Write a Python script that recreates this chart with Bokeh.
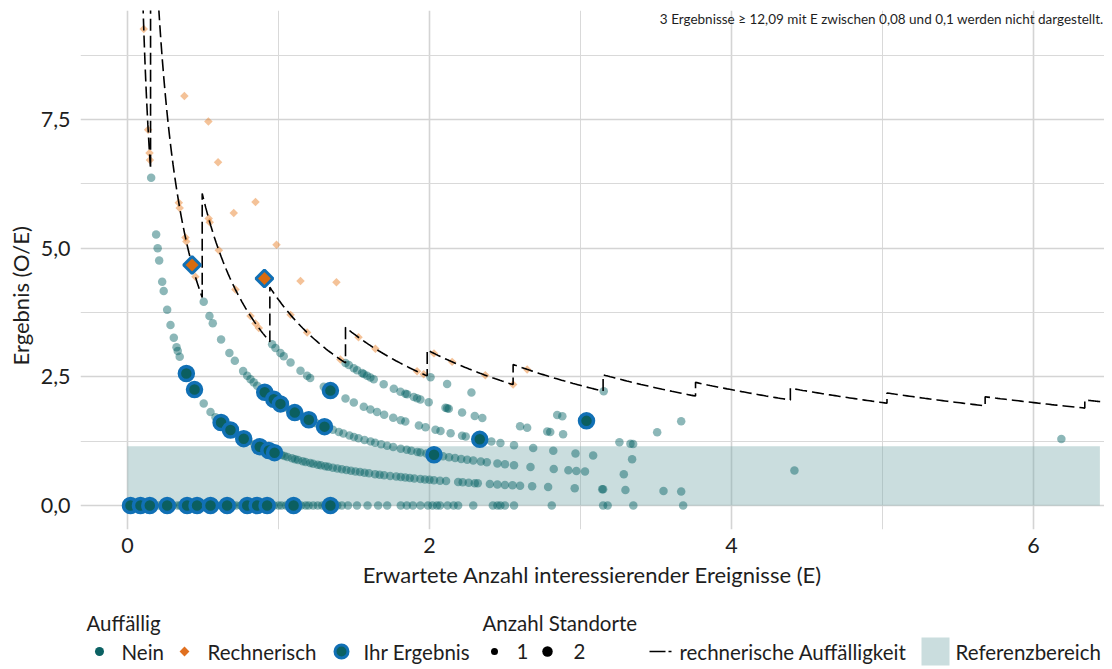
import numpy as np
from bokeh.plotting import figure
from bokeh.models import Range1d, FixedTicker, Label, Title
from bokeh.layouts import column
from bokeh.embed import file_html
from bokeh.resources import INLINE
from bokeh.core.properties import value

FONT = "Lato"
TXT = "#1e1e1e"

# ---------------- data (E = expected, O = observed count) ----------------
# "Nein" (not conspicuous) sites, grouped by observed count O
nein_E_O0 = [0.01, 0.03, 0.05, 0.07, 0.10, 0.12, 0.16, 0.18, 0.21, 0.23, 0.25, 0.28, 0.30, 0.33,
             0.35, 0.37, 0.41, 0.43, 0.48, 0.50, 0.52, 0.57, 0.59, 0.62, 0.64, 0.68, 0.70, 0.72,
             0.75, 0.77, 0.81, 0.83, 0.88, 0.90, 0.95, 0.97, 1.00, 1.02, 1.05, 1.07, 1.12, 1.15,
             1.18, 1.20, 1.23, 1.26, 1.29, 1.31, 1.36, 1.39, 1.42, 1.46, 1.52, 1.59, 1.66, 1.72,
             1.81, 1.85, 1.89, 1.94, 1.99, 2.02, 2.05, 2.07, 2.12, 2.16, 2.19, 2.29, 2.42, 2.45,
             2.47, 2.50, 2.56, 2.81, 3.15, 3.18, 3.35, 3.68]
nein_E_O1 = [0.157, 0.19, 0.20, 0.21, 0.23, 0.24, 0.263, 0.285, 0.307, 0.325, 0.333, 0.346,
             0.505, 0.55, 0.583, 0.60, 0.65, 0.70, 0.73, 0.80, 0.84, 0.90, 0.95, 0.99, 1.02,
             1.04, 1.06, 1.09, 1.11, 1.13, 1.16, 1.18, 1.21, 1.23, 1.26, 1.28, 1.31, 1.33, 1.36,
             1.39, 1.42, 1.45, 1.48, 1.51, 1.54, 1.57, 1.60, 1.64, 1.67, 1.70, 1.74, 1.78, 1.81,
             1.84, 1.87, 1.90, 1.94, 1.97, 2.00, 2.03, 2.07, 2.11, 2.19, 2.22, 2.26, 2.30, 2.32,
             2.40, 2.45, 2.50, 2.55, 2.60, 2.68, 2.786, 2.962, 3.144, 3.15, 3.298, 3.55, 3.667]
nein_E_O2 = [0.505, 0.543, 0.565, 0.62, 0.675, 0.711, 0.766, 0.793, 0.815, 0.836, 0.859, 0.94,
             0.99, 1.05, 1.08, 1.12, 1.15, 1.18, 1.22, 1.25, 1.28, 1.33, 1.36, 1.40, 1.43, 1.47,
             1.50, 1.53, 1.57, 1.61, 1.64, 1.68, 1.72, 1.76, 1.81, 1.85, 1.88, 1.92, 1.94, 1.98,
             2.05, 2.09, 2.13, 2.17, 2.21, 2.25, 2.29, 2.34, 2.38, 2.45, 2.50, 2.56, 2.669, 2.823,
             2.92, 2.973, 3.03, 3.287]
nein_E_O3 = [0.958, 0.98, 1.013, 1.035, 1.08, 1.146, 1.19, 1.21, 1.30, 1.444, 1.499, 1.565,
             1.609, 1.653, 1.70, 1.76, 1.81, 1.84, 1.93, 1.974, 2.04, 2.073, 2.14, 2.216, 2.24,
             2.41, 2.47, 2.56, 2.687, 2.82, 2.967, 3.084, 3.342, 4.417]
nein_E_O4 = [1.444, 1.466, 1.499, 1.521, 1.554, 1.565, 1.587, 1.609, 1.631, 1.697, 1.764, 1.808,
             1.841, 1.852, 1.896, 1.918, 1.94, 1.995, 2.106, 2.117, 2.128, 2.216, 2.30, 2.35,
             2.60, 2.647, 2.78, 2.80, 2.885, 3.258, 3.331, 3.349]
nein_E_O5 = [2.007, 2.117, 2.278, 2.846, 2.88, 3.508]
nein_E_O6 = [3.667]
nein_E_O7 = [3.154]
nein_E_O8 = [6.185]

# "Rechnerisch" (computationally conspicuous) sites
rech_E_O1 = [0.108, 0.137, 0.146, 0.149]
rech_E_O2 = [0.340, 0.346, 0.384, 0.390, 0.450]
rech_E_O3 = [0.377, 0.538, 0.545, 0.605, 0.715, 0.815, 0.848, 0.870]
rech_E_O4 = [0.536, 0.600, 0.704, 1.08, 1.19, 1.41]
rech_E_O5 = [0.848, 0.987, 1.146, 1.53, 1.642, 1.918, 1.962]
rech_E_O6 = [1.384, 2.03, 2.15, 2.37, 2.554]
rech_E_O7 = [2.647]

# "Ihr Ergebnis" (own results)
own_nein_E_O0 = [0.02, 0.086, 0.148, 0.263, 0.395, 0.461, 0.55, 0.66, 0.793, 0.859, 0.925, 1.10, 1.344]
own_nein_E_O1 = [0.39, 0.444, 0.62, 0.682, 0.77, 0.876, 0.936, 0.974]
own_nein_E_O2 = [0.909, 0.969, 1.013, 1.108, 1.201, 1.305, 2.03]
own_nein_E_O3 = [1.344, 2.333]
own_nein_E_O5 = [3.04]
own_rech_E_O2 = [0.428]
own_rech_E_O4 = [0.907]

# threshold of computational conspicuousness: critical count steps up at these E
thr_break_E = [0.153, 0.495, 0.943, 1.444, 1.985, 2.554, 3.150, 3.762, 4.39, 5.03, 5.68, 6.34]
thr_first_O = 1

# reference range
ref_upper = 1.15
ref_E_max = 6.44

x_ticks = [0, 2, 4, 6]
x_minor = [1, 3, 5]
y_ticks = [0, 2.5, 5, 7.5]
y_minor = [1.25, 3.75, 6.25, 8.75]
y_labels = ["0,0", "2,5", "5,0", "7,5"]
note = "3 Ergebnisse \u2265 12,09 mit E zwischen 0,08 und 0,1 werden nicht dargestellt."


def collect(groups):
    xs, ys = [], []
    for o, es in groups:
        for e in es:
            xs.append(e)
            ys.append(o / e)
    return xs, ys


nein_x, nein_y = collect([(0, nein_E_O0), (1, nein_E_O1), (2, nein_E_O2), (3, nein_E_O3),
                          (4, nein_E_O4), (5, nein_E_O5), (6, nein_E_O6), (7, nein_E_O7),
                          (8, nein_E_O8)])
rech_x, rech_y = collect([(1, rech_E_O1), (2, rech_E_O2), (3, rech_E_O3), (4, rech_E_O4),
                          (5, rech_E_O5), (6, rech_E_O6), (7, rech_E_O7)])
own_c_x, own_c_y = collect([(0, own_nein_E_O0), (1, own_nein_E_O1), (2, own_nein_E_O2),
                            (3, own_nein_E_O3), (5, own_nein_E_O5)])
own_d_x, own_d_y = collect([(2, own_rech_E_O2), (4, own_rech_E_O4)])

# ---------------- layout constants ----------------
W = 1104
HM, HL = 596, 73            # main figure / legend strip heights
BL, BR, BT = 80, 0, 10
FH = 519
BB = HM - BT - FH
X0 = -0.311
X1 = X0 + (W - BL - BR) / 151.0
Y0, Y1 = -0.466, 9.617
F_BOTTOM = BT + FH

# threshold line: O_crit / E, stepping at the break points
edges = [0.09] + thr_break_E + [X1]
tx, ty = [], []
for i in range(len(edges) - 1):
    k = thr_first_O + i
    seg = np.linspace(edges[i], edges[i + 1], 40)
    tx.extend(seg.tolist())
    ty.extend((k / seg).tolist())

p = figure(width=W, height=HM, x_range=Range1d(X0, X1), y_range=Range1d(Y0, Y1),
           output_backend="svg", toolbar_location=None,
           min_border_left=BL, min_border_right=BR, min_border_top=BT, min_border_bottom=BB)
p.outline_line_color = None

for g, tk, mn in ((p.xgrid, x_ticks, x_minor), (p.ygrid, y_ticks, y_minor)):
    g.ticker = FixedTicker(ticks=tk, minor_ticks=mn)
    g.grid_line_color = "#d4d4d4"
    g.grid_line_width = 1.6
    g.minor_grid_line_color = "#d9d9d9"
    g.minor_grid_line_width = 1.0

p.xaxis.ticker = FixedTicker(ticks=x_ticks)
p.yaxis.ticker = FixedTicker(ticks=y_ticks)
p.yaxis.major_label_overrides = {t: l for t, l in zip(y_ticks, y_labels)}
for ax in (p.xaxis[0], p.yaxis[0]):
    ax.axis_line_color = None
    ax.major_tick_line_color = None
    ax.minor_tick_line_color = None
    ax.major_tick_out = 0
    ax.major_tick_in = 0
    ax.minor_tick_out = 0
    ax.minor_tick_in = 0
    ax.major_label_text_font = FONT
    ax.major_label_text_font_size = "21.5px"
    ax.major_label_text_color = TXT
    ax.axis_label_text_font = FONT
    ax.axis_label_text_font_size = "22px"
    ax.axis_label_text_font_style = "normal"
    ax.axis_label_text_color = TXT
p.xaxis.major_label_standoff = 8
p.yaxis.major_label_standoff = 10
p.xaxis.axis_label = "Erwartete Anzahl interessierender Ereignisse (E)"
p.xaxis.axis_label_standoff = 5

# y axis title (placed in the left side panel, offset from the frame bottom)
p.add_layout(Title(text="Ergebnis (O/E)", align="left", offset=F_BOTTOM - 365, standoff=8,
                   text_font=FONT, text_font_size="22px", text_font_style="normal",
                   text_color=TXT), "left")

TEAL = "#005f61"
ORANGE = "#e6781a"
BLUE = "#1170b5"
BAND = "#7aabad"

# reference band
p.quad(left=[0], right=[ref_E_max], bottom=[0], top=[ref_upper],
       fill_color=BAND, fill_alpha=0.4, line_color=None)

p.scatter(nein_x, nein_y, marker="circle", size=8.5, fill_color=TEAL, fill_alpha=0.45, line_color=None)
p.scatter(rech_x, rech_y, marker="square", angle=np.pi / 4, size=6,
          fill_color=ORANGE, fill_alpha=0.45, line_color=None)
p.line(tx, ty, line_color="black", line_width=1.6, line_dash="12 5")
p.scatter(own_c_x, own_c_y, marker="circle", size=14, fill_color="#0b5f60",
          line_color=BLUE, line_width=3.5)
p.scatter(own_d_x, own_d_y, marker="square", angle=np.pi / 4, size=12, fill_color="#d96b0f",
          line_color=BLUE, line_width=3)

p.add_layout(Label(x=X1, y=Y1, text=note, text_align="right", text_baseline="middle",
                   x_offset=-1, y_offset=-8, text_font=FONT, text_font_size="13.5px",
                   text_color=TXT))

# ---------------- legend strip (coordinates = picture pixels) ----------------
leg = figure(width=W, height=HL, x_range=Range1d(BL, W - BR), y_range=Range1d(HM + HL, HM),
             output_backend="svg", toolbar_location=None,
             min_border_left=BL, min_border_right=BR, min_border_top=0, min_border_bottom=0,
             x_axis_location=None, y_axis_location=None)
leg.outline_line_color = None
leg.grid.visible = False

LEG_T, LEG_I = 622, 651
LFS = "20.5px"
leg.text(x=[86, 482], y=[LEG_T, LEG_T], text=["Auffällig", "Anzahl Standorte"],
         text_font=value(FONT), text_font_size=LFS, text_color=TXT, text_baseline="middle")
leg.text(x=[121, 207, 363, 516, 573, 679, 955], y=[LEG_I] * 7,
         text=["Nein", "Rechnerisch", "Ihr Ergebnis", "1", "2", "rechnerische Auffälligkeit",
               "Referenzbereich"],
         text_font=value(FONT), text_font_size=LFS, text_color=TXT, text_baseline="middle")
leg.scatter([99], [LEG_I], marker="circle", size=9, fill_color="#0b6163", line_color=None)
leg.scatter([184], [LEG_I], marker="square", angle=np.pi / 4, size=7, fill_color="#e07020",
            line_color=None)
leg.scatter([341], [LEG_I], marker="circle", size=13, fill_color="#0b6163", line_color=BLUE,
            line_width=3)
leg.scatter([494], [LEG_I], marker="circle", size=7, fill_color="black", line_color=None)
leg.scatter([547], [LEG_I], marker="circle", size=10.5, fill_color="black", line_color=None)
leg.line([649, 671], [LEG_I, LEG_I], line_color="black", line_width=1.6, line_dash="16 3")
leg.quad(left=[921], right=[949], top=[LEG_I - 14], bottom=[LEG_I + 14], fill_color=BAND,
         fill_alpha=0.4, line_color=None)

layout = column(p, leg)
open("out.html", "w").write(file_html(layout, INLINE))
